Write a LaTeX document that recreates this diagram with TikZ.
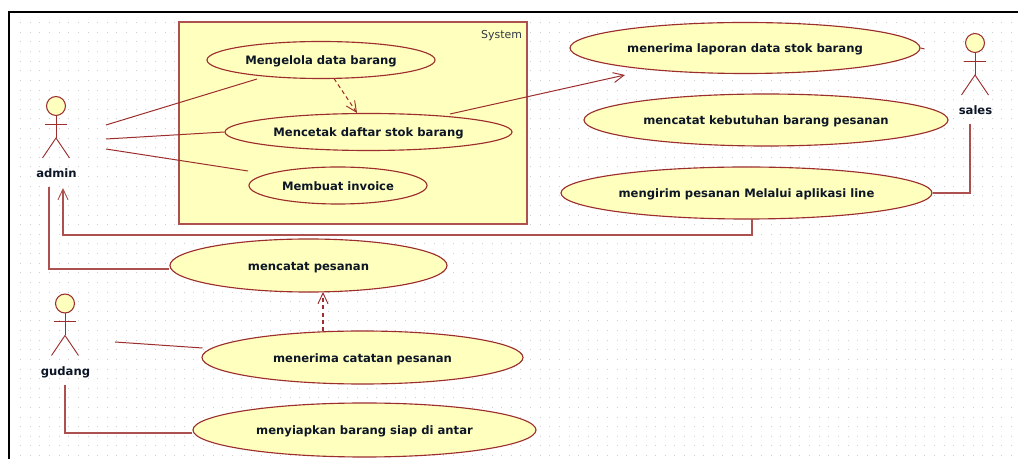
\documentclass[tikz,border=0pt]{standalone}
\usepackage{fontspec}
\setmainfont{DejaVu Sans}
\usetikzlibrary{calc,arrows.meta,shapes.geometric}
\definecolor{umlline}{HTML}{9C2E2E}
\definecolor{umlortho}{HTML}{AD5050}
\definecolor{umlfill}{HTML}{FFFFBE}
\definecolor{umltext}{HTML}{0C1626}
\definecolor{griddot}{HTML}{CFCFCF}
\tikzset{
  usecase/.style={shape=ellipse, draw=umlline, fill=umlfill, line width=0.85pt, inner sep=0pt, text=umltext, font=\bfseries\fontsize{8.7}{11}\selectfont},
  actorname/.style={text=umltext, font=\bfseries\fontsize{8.7}{11}\selectfont, inner sep=0pt, text depth=0pt},
  head/.style={shape=circle, draw=umlline, fill=umlfill, line width=0.8pt, minimum size=14.2pt, inner sep=0pt},
  limb/.style={draw=umlline, line width=0.7pt},
  assoc/.style={draw=umlline, line width=0.75pt},
  assocortho/.style={draw=umlortho, line width=1.05pt},
  openhead/.style={-{Straight Barb[length=8pt,width=7.5pt,line width=0.7pt]}},
  depend/.style={draw=umlline, line width=0.8pt, dash pattern=on 3pt off 2.4pt, openhead},
}
\newcommand{\usecasenode}[6]{% name, cx, cy, w, h, text
  \node[usecase, minimum width=#4*0.75pt, minimum height=#5*0.75pt] (#1) at (#2,#3) {\raisebox{-1.8pt}[0.6em][0.2em]{#6}};}
\newcommand{\actorfig}[4]{% name, head x, head y, label
  \node[head] (#1head) at (#2,#3) {};
  \draw[limb] (#1head.south) -- ($(#1head.center)+(0,32)$) coordinate (#1hip);
  \draw[limb] ($(#1head.center)+(-11,18)$) -- ($(#1head.center)+(11,18)$);
  \draw[limb] ($(#1hip)+(-13.5,20)$) -- (#1hip) -- ($(#1hip)+(13.5,20)$);
  \node[actorname] (#1) at ($(#1head.center)+(0.5,67.5)$) {#4};}
\begin{document}
\begin{tikzpicture}[x=0.75pt,y=-0.75pt]
\useasboundingbox (0,0) rectangle (1018,459);
\fill[white] (0,0) rectangle (1018,459);
% grid
\foreach \i in {0,...,103}{
  \foreach \j in {0,...,45}{
    \fill[griddot] ({20.2+9.62*\i},{22.2+9.62*\j}) rectangle +(1,1);
  }}
% frame
\draw[black, line width=1.5pt] (9,459) -- (9,12.5) -- (1018,12.5);
% system
\node[draw=umlortho, fill=umlfill, line width=1.05pt, minimum width=348*0.75pt, minimum height=202*0.75pt, inner sep=0pt] (system) at (353,123) {};
\node[anchor=north east, inner sep=0pt, text=umltext!85!white, font=\fontsize{8.2}{10}\selectfont] (systemlabel) at ($(system.north east)+(-5.5,9)$) {System};
% use cases
\usecasenode{eA}{321}{60}{228}{37}{Mengelola data barang}
\usecasenode{eB}{368.5}{132}{287}{37}{Mencetak daftar stok barang}
\usecasenode{eC}{338}{185.5}{178}{37}{Membuat invoice}
\usecasenode{eD}{745}{48}{350}{51}{menerima laporan data stok barang}
\usecasenode{eE}{766}{120}{364}{52}{mencatat kebutuhan barang pesanan}
\usecasenode{eF}{746.5}{193}{371}{52}{mengirim pesanan Melalui aplikasi line}
\usecasenode{eG}{308.5}{265.5}{277}{53}{mencatat pesanan}
\usecasenode{eH}{362.5}{357.5}{321}{53}{menerima catatan pesanan}
\usecasenode{eI}{364.5}{430}{343}{54}{menyiapkan barang siap di antar}
% actors
\actorfig{admin}{56}{106}{admin}
\actorfig{sales}{975}{43}{sales}
\actorfig{gudang}{65}{303.5}{gudang}
% free ends near actors
\coordinate (adminR1) at (106,125);
\coordinate (adminR2) at (106,139);
\coordinate (adminR3) at (106,149);
\coordinate (adminB1) at (49,187);
\coordinate (adminB2) at (63,188);
\coordinate (salesB) at (970,124);
\coordinate (gudangR) at (115,342);
\coordinate (gudangB) at (65,385);
% connectors
\draw[assoc] (adminR1) -- ($(eA.center)+(-64,19)$);
\draw[assoc] (adminR2) -- (eB.west);
\draw[assoc] (adminR3) -- ($(eC.center)+(-90,-14.5)$);
\draw[depend] ($(eA.center)+(13,18.5)$) -- ($(eB.center)+(-11.5,-19)$);
\draw[assoc,openhead] ($(eB.center)+(81.5,-18)$) -- ($(eD.center)+(-120,27)$);
\draw[assoc] (eD.east) -- ++(4,1);
\draw[assocortho] (salesB) |- (eF.east);
\draw[assocortho,openhead] ($(eF.center)+(5.5,26)$) -- ++(0,16) -| (adminB2);
\draw[assocortho] (adminB1) |- ($(eG.west)+(0,3.5)$);
\draw[assoc] (gudangR) -- ($(eH.center)+(-160,-9.5)$);
\draw[depend] ($(eH.center)+(-39.5,-26.5)$) -- ($(eG.center)+(14.5,26.5)$);
\draw[assocortho] (gudangB) |- ($(eI.west)+(0,3)$);
\end{tikzpicture}
\end{document}
